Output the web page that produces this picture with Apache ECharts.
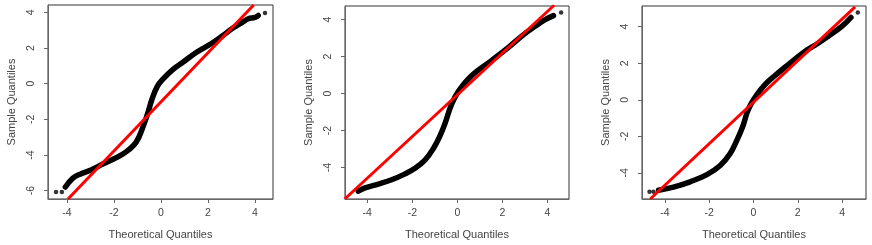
<!DOCTYPE html>
<html><head><meta charset="utf-8">
<script src="https://cdn.jsdelivr.net/npm/echarts@6/dist/echarts.min.js"></script>
<style>html,body{margin:0;padding:0;background:#fff}#c{width:872px;height:245px}</style>
</head><body><div id="c"></div>
<script>
const tickValues = [-6, -4, -2, 0, 2, 4];
const xTitle = 'Theoretical Quantiles';
const yTitle = 'Sample Quantiles';

const qq1 = [[-4.06,-5.80],[-3.74,-5.30],[-3.39,-5.05],[-2.97,-4.84],[-2.47,-4.51],[-1.97,-4.20],[-1.48,-3.83],[-1.05,-3.28],[-0.77,-2.46],[-0.58,-1.75],[-0.37,-0.85],[-0.15,-0.15],[0.10,0.27],[0.52,0.80],[0.95,1.21],[1.52,1.76],[2.15,2.25],[2.58,2.64],[3.08,3.13],[3.43,3.41],[3.72,3.64],[4.00,3.71],[4.14,3.82]];
const tail1 = [[-4.46,-6.08],[-4.21,-6.08],[4.43,3.96]];
const ref1 = [[-3.95,-6.47],[3.95,4.41]];

const qq2 = [[-4.40,-5.28],[-4.10,-5.10],[-3.51,-4.89],[-2.92,-4.66],[-2.32,-4.34],[-1.88,-4.04],[-1.44,-3.60],[-1.07,-2.98],[-0.77,-2.28],[-0.55,-1.62],[-0.27,-0.62],[0.04,0.11],[0.64,0.98],[1.53,1.80],[2.27,2.50],[2.93,3.18],[3.45,3.64],[3.90,4.00],[4.27,4.22]];
const tail2 = [[4.61,4.39]];
const ref2 = [[-5.0,-5.70],[4.30,4.78]];

const qq3 = [[-4.28,-4.95],[-3.61,-4.78],[-2.86,-4.49],[-2.10,-4.10],[-1.50,-3.60],[-1.05,-2.94],[-0.75,-2.22],[-0.47,-1.42],[-0.28,-0.68],[-0.12,-0.25],[0.15,0.27],[0.50,0.80],[0.95,1.30],[1.50,1.85],[2.26,2.59],[2.90,3.08],[3.38,3.48],[3.99,4.01],[4.40,4.50]];
const tail3 = [[-4.69,-5.03],[-4.51,-5.03],[4.71,4.78]];
const ref3 = [[-4.66,-5.43],[4.59,5.08]];

const panels = [
  {left:48, width:225, top:5, height:198, xr:[-4.80,4.77], yr:[-6.47,4.41], qq:qq1, tail:tail1, ref:ref1},
  {left:345, width:224, top:6, height:197, xr:[-4.99,4.96], yr:[-5.70,4.74], qq:qq2, tail:tail2, ref:ref2},
  {left:642, width:224, top:6, height:197, xr:[-5.03,5.08], yr:[-5.43,5.13], qq:qq3, tail:tail3, ref:ref3}
];

const txt = '#444';
const font = 'Liberation Sans, Arial, sans-serif';
const grids = [], xAxes = [], yAxes = [], series = [];
panels.forEach((p, i) => {
  grids.push({left:p.left, top:p.top, width:p.width, height:p.height, show:true, borderColor:'#333', borderWidth:1, backgroundColor:'transparent'});
  const inX = tickValues.filter(v => v >= p.xr[0] && v <= p.xr[1]);
  const inY = tickValues.filter(v => v >= p.yr[0] && v <= p.yr[1]);
  xAxes.push({type:'value', gridIndex:i, min:p.xr[0], max:p.xr[1], splitLine:{show:false},
    axisLine:{show:true, onZero:false, lineStyle:{color:'#666'}},
    axisTick:{show:true, inside:false, length:4, customValues:inX, lineStyle:{color:'#666'}},
    axisLabel:{show:true, customValues:inX, margin:9, fontSize:10.5, color:txt, fontFamily:font},
    name:xTitle, nameLocation:'middle', nameGap:30, nameTextStyle:{fontSize:11, color:txt, fontFamily:font}});
  yAxes.push({type:'value', gridIndex:i, min:p.yr[0], max:p.yr[1], splitLine:{show:false},
    axisLine:{show:true, onZero:false, lineStyle:{color:'#666'}},
    axisTick:{show:true, inside:false, length:4, customValues:inY, lineStyle:{color:'#666'}},
    axisLabel:{show:true, customValues:inY, rotate:90, margin:11, fontSize:10.5, color:txt, fontFamily:font},
    name:yTitle, nameLocation:'middle', nameGap:31, nameRotate:90, nameTextStyle:{fontSize:11, color:txt, fontFamily:font}});
  series.push({type:'line', xAxisIndex:i, yAxisIndex:i, data:p.qq, smooth:0.4, showSymbol:false, symbol:'none',
    lineStyle:{color:'#000', width:5.5, cap:'round', join:'round'}, z:2, silent:true, animation:false});
  series.push({type:'scatter', xAxisIndex:i, yAxisIndex:i, data:p.tail, symbolSize:4.5,
    itemStyle:{color:'#000'}, z:2, silent:true, animation:false});
  series.push({type:'line', xAxisIndex:i, yAxisIndex:i, data:p.ref, showSymbol:false, symbol:'none',
    lineStyle:{color:'#ff0000', width:3}, z:3, silent:true, animation:false, clip:true});
});

const chart = echarts.init(document.getElementById('c'), null, {renderer:'canvas'});
chart.setOption({animation:false, grid:grids, xAxis:xAxes, yAxis:yAxes, series:series});
</script></body></html>
